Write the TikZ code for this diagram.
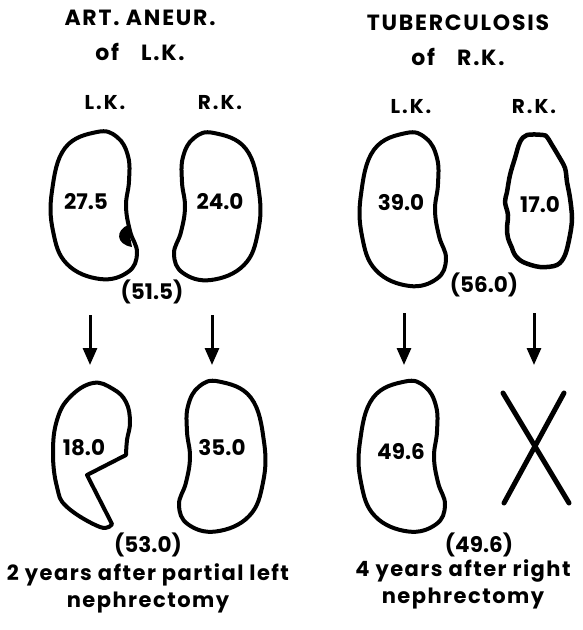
\documentclass[tikz,border=0pt]{standalone}
\usepackage{fontspec}
\setmainfont{Poppins}
\usetikzlibrary{arrows.meta}

\tikzset{
  organ/.style={line width=4pt, line join=round},
  val/.style={font=\bfseries\fontsize{21.5}{24}\selectfont, inner sep=0pt},
  side/.style={font=\bfseries\fontsize{20}{20}\selectfont\addfontfeature{LetterSpace=10}, inner sep=0pt},
  heading/.style={font=\bfseries\fontsize{22}{35}\selectfont\addfontfeature{LetterSpace=8}, align=center, inner sep=0pt},
  note/.style={font=\bfseries\fontsize{21}{27}\selectfont\addfontfeature{LetterSpace=7}, align=center, inner sep=0pt},
  later/.style={line width=3pt, -{Triangle[width=14pt,length=17pt]}},
  kidney/.pic={
    \draw[organ] plot[smooth cycle, tension=0.7] coordinates {(2,-74) (22,-69) (33,-50) (34,-25) (31,0) (35,25) (42,47) (33,66) (5,73) (-28,58) (-42,25) (-43,-15) (-30,-58)};
  }
}

\begin{document}
\begin{tikzpicture}[x=1pt, y=-1pt]
  \useasboundingbox (0,0) rectangle (582,630);

  % headings
  \node[heading] (hl) at (140,35) {ART.\ ANEUR.\\of\quad L.K.};
  \node[heading] (hr) at (458,40) {TUBERCULOSIS\\of\quad R.K.};

  \node[side] (lk1) at (105,103) {L.K.};
  \node[side] (rk1) at (220,103) {R.K.};
  \node[side] (lk2) at (411,107) {L.K.};
  \node[side] (rk2) at (534,107) {R.K.};

  % before: aneurysm case
  \pic at (95,206) {kidney};
  \fill (128,225) .. controls (116,230) and (115,244) .. (132,247) -- cycle;
  \pic[xscale=-1] at (216,207) {kidney};
  \node[val] (a1) at (86,202) {27.5};
  \node[val] (a2) at (220,202) {24.0};
  \node[val] (as) at (152,292) {(51.5)};

  % before: tuberculosis case
  \pic[yscale=1.04] at (404,210) {kidney};
  \draw[organ, line width=4.5pt] plot[smooth cycle, tension=0.55] coordinates {(527,135) (543,135) (547,137) (552,145) (558,155) (565,168) (567,182) (570,198) (572,218) (570,235) (565,255) (557,265) (540,267) (523,262) (515,255) (512,248) (508,238) (507,228) (508,215) (505,202) (507,192) (510,175) (515,158) (520,142)};
  \node[val] (t1) at (401,203) {39.0};
  \node[val] (t2) at (540,205) {17.0};
  \node[val] (ts) at (484,285) {(56.0)};

  % arrows
  \coordinate (s1) at (90,315);  \coordinate (e1) at (90,365);
  \coordinate (s2) at (212,315); \coordinate (e2) at (212,365);
  \coordinate (s3) at (404,313); \coordinate (e3) at (404,365);
  \coordinate (s4) at (534,313); \coordinate (e4) at (534,365);
  \draw[later] (s1) -- (e1);
  \draw[later] (s2) -- (e2);
  \draw[later] (s3) -- (e3);
  \draw[later] (s4) -- (e4);

  % after: partial left nephrectomy
  \draw[organ] plot[smooth, tension=0.7] coordinates {(126,455) (127,440) (130,422) (126,402) (113,389) (93,383) (70,397) (57,420) (53,453) (57,487) (67,507) (100,527) (112,524)} -- (87,475) -- cycle;
  \pic[xscale=-1, yscale=1.02] at (221,457) {kidney};
  \node[val] (b1) at (84,448) {18.0};
  \node[val] (b2) at (222,448) {35.0};
  \node[val] (bs) at (148,545) {(53.0)};

  % after: right nephrectomy
  \pic[yscale=1.02] at (403,457) {kidney};
  \draw[line width=5pt, line cap=round] (503,393) -- (569,503);
  \draw[line width=5pt, line cap=round] (564,393) -- (504,503);
  \node[val] (c1) at (401,452) {49.6};
  \node[val] (cs) at (479,545) {(49.6)};

  % captions
  \node[note] (nl) at (148,588) {2 years after partial left\\nephrectomy};
  \node[note] (nr) at (463,584) {4 years after right\\nephrectomy};
\end{tikzpicture}
\end{document}
